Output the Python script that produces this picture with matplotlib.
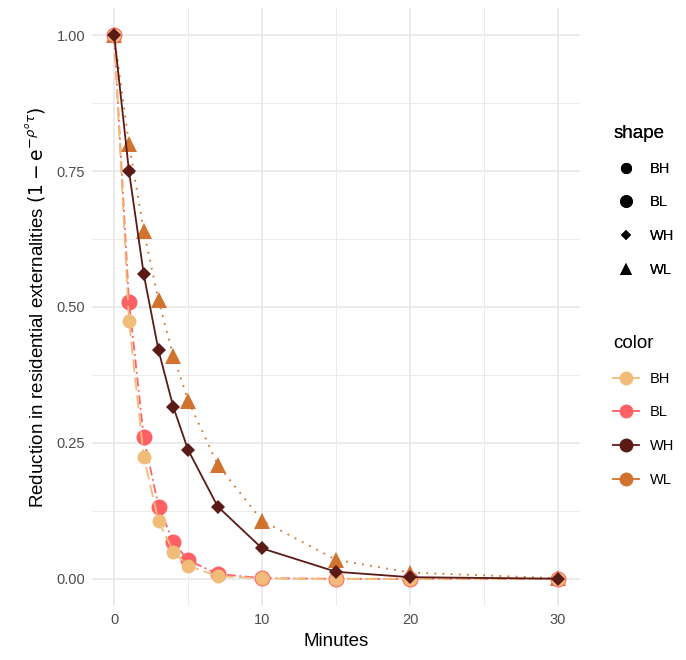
import numpy as np
import matplotlib
matplotlib.use('Agg')
import matplotlib.pyplot as plt
from matplotlib.lines import Line2D

plt.rcParams['font.family'] = ['Liberation Sans', 'DejaVu Sans']
plt.rcParams['mathtext.fontset'] = 'dejavusans'

# データ
minutes = [0, 1, 2, 3, 4, 5, 7, 10, 15, 20, 30]
groups = ['BH', 'BL', 'WH', 'WL']
bh = [1.0, 0.474, 0.224, 0.106, 0.050, 0.024, 0.005, 0.0006, 0.0, 0.0, 0.0]
bl = [1.0, 0.510, 0.260, 0.133, 0.068, 0.034, 0.009, 0.0012, 0.0, 0.0, 0.0]
wh = [1.0, 0.750, 0.560, 0.420, 0.316, 0.237, 0.133, 0.056, 0.013, 0.003, 0.0002]
wl = [1.0, 0.800, 0.640, 0.512, 0.410, 0.328, 0.210, 0.107, 0.035, 0.0115, 0.0012]
yticks = [0.0, 0.25, 0.5, 0.75, 1.0]
xticks = [0, 10, 20, 30]

colors = {'BH': '#F1BB78', 'BL': '#FF6065', 'WH': '#5A1A16', 'WL': '#D2722F'}
markers = {'BH': 'o', 'BL': 'o', 'WH': 'D', 'WL': '^'}
msize = {'BH': 10, 'BL': 11.5, 'WH': 7, 'WL': 11}
lstyle = {'BH': (0, (7, 3)), 'BL': (0, (5, 2, 1, 2)), 'WH': '-', 'WL': (0, (1, 3.5))}
values = {'BH': bh, 'BL': bl, 'WH': wh, 'WL': wl}
order = ['WL', 'BL', 'BH', 'WH']

fig = plt.figure(figsize=(6.86, 6.60), dpi=100)
ax = fig.add_axes([92/686, 1-606/660, (580-92)/686, (606-8)/660])

for i, g in enumerate(order):
    ax.plot(minutes, values[g], color=colors[g], linestyle=lstyle[g], lw=1.3,
            marker=markers[g], markersize=msize[g], markeredgewidth=0,
            zorder=3+i)

# グリッド (theme_minimal 風)
ax.set_xlim(-1.5, 31.5)
ax.set_ylim(-0.05, 1.05)
ax.set_xticks(xticks)
ax.set_yticks(yticks)
ax.set_xticklabels([str(x) for x in xticks])
ax.set_yticklabels(['%.2f' % y for y in yticks])
ax.set_xticks([5, 15, 25], minor=True)
ax.set_yticks([0.125, 0.375, 0.625, 0.875], minor=True)
ax.grid(True, which='major', color='#EBEBEB', lw=1.4, zorder=0)
ax.grid(True, which='minor', color='#EBEBEB', lw=0.7, zorder=0)
for s in ax.spines.values():
    s.set_visible(False)
ax.tick_params(which='both', length=0, labelsize=10.5, labelcolor='#4D4D4D', pad=5)

ax.set_xlabel('Minutes', fontsize=13.5, labelpad=4)
ax.set_ylabel(r'Reduction in residential externalities $(1-\mathrm{e}^{-\rho^{o}\tau})$',
              fontsize=13.5, labelpad=6)

# 凡例
shape_h = [Line2D([], [], color='black', marker=markers[g], markersize=msize[g] * 0.8,
                  linestyle='none', markeredgewidth=0) for g in groups]
color_h = [Line2D([], [], color=colors[g], marker='o', markersize=10, lw=1.3,
                  markeredgewidth=0) for g in groups]
leg1 = fig.legend(shape_h, groups, title='shape', loc='upper left',
                  bbox_to_anchor=(600/686, 1-112/660), frameon=False,
                  fontsize=10.5, title_fontsize=13.5, labelspacing=1.35,
                  handlelength=1.8, handletextpad=0.7, alignment='left')
leg2 = fig.legend(color_h, groups, title='color', loc='upper left',
                  bbox_to_anchor=(600/686, 1-322/660), frameon=False,
                  fontsize=10.5, title_fontsize=13.5, labelspacing=1.35,
                  handlelength=1.8, handletextpad=0.7, alignment='left')
fig.add_artist(leg1)

plt.savefig('out.png', dpi=100, facecolor='white')
plt.close()
